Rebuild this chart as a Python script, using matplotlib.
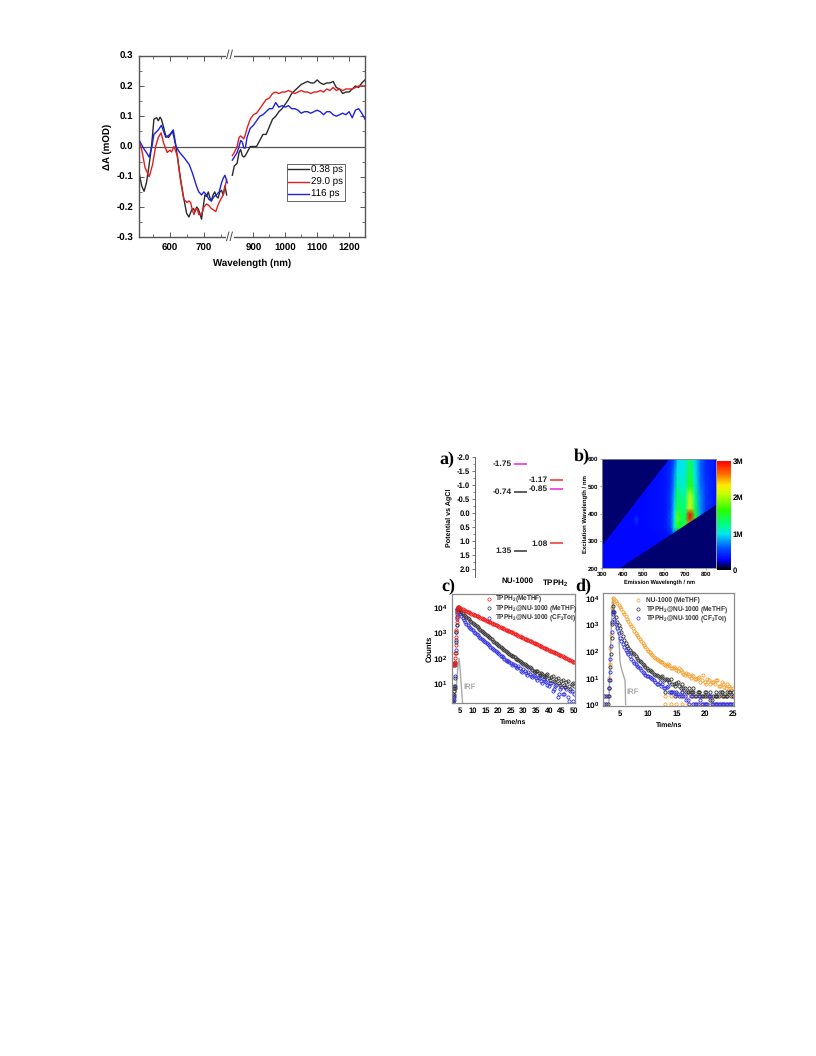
import numpy as np
import matplotlib
matplotlib.use('Agg')
import matplotlib.pyplot as plt
from matplotlib.colors import LinearSegmentedColormap
from matplotlib.ticker import FixedLocator, NullFormatter

# transient absorption spectra (top panel), each trace read on its own wavelengths below the axis break
black_left_wl = [510, 517, 524, 531, 539, 546, 553, 561, 566, 571, 575, 580, 588, 596, 602, 608, 618, 629, 639, 649,
	656, 664, 669, 674, 679, 683, 688, 693, 698, 703, 708, 713, 718, 722, 727, 732, 737, 742, 747, 752, 757, 762, 767]
black_left = [-0.09, -0.13, -0.148, -0.12, -0.06, 0.0, 0.09, 0.095, 0.085, 0.097, 0.09, 0.07, 0.035, 0.03, 0.04, 0.05, 0.0, -0.09, -0.16, -0.22,
	-0.233, -0.21, -0.205, -0.215, -0.20, -0.205, -0.22, -0.24, -0.20, -0.16, -0.165, -0.15, -0.17, -0.18, -0.16, -0.15, -0.165, -0.17, -0.15, -0.145, -0.16, -0.13, -0.16]
red_left_wl = [510, 517, 527, 539, 549, 558, 566, 574, 582, 592, 600, 605, 612, 622, 631, 641, 651, 656, 661, 666,
	671, 676, 680, 685, 693, 700, 708, 715, 722, 729, 735, 741, 747, 752, 757, 762, 767]
red_left = [0.015, -0.01, -0.07, -0.10, -0.06, 0.0, 0.03, 0.045, 0.01, -0.02, -0.012, -0.018, 0.0, -0.03, -0.11, -0.175, -0.185, -0.18, -0.185, -0.21,
	-0.225, -0.205, -0.205, -0.225, -0.225, -0.20, -0.19, -0.195, -0.205, -0.21, -0.215, -0.195, -0.18, -0.17, -0.16, -0.135, -0.11]
blue_left_wl = [510, 522, 531, 539, 547, 553, 566, 575, 588, 594, 600, 610, 618, 629, 644, 657, 667, 678, 685, 693,
	700, 708, 715, 722, 730, 737, 745, 752, 757, 762, 769]
blue_left = [0.02, -0.005, -0.02, -0.035, 0.0, 0.04, 0.055, 0.07, 0.03, 0.035, 0.04, 0.055, 0.0, -0.02, -0.04, -0.06, -0.09, -0.13, -0.15, -0.16,
	-0.15, -0.16, -0.175, -0.18, -0.165, -0.16, -0.15, -0.12, -0.105, -0.095, -0.12]

wl_right = [834, 840, 849, 855, 860, 865, 870, 875, 880, 890, 900, 910, 920, 930, 940, 950, 960, 970, 980, 990,
	1000, 1010, 1020, 1030, 1040, 1050, 1060, 1070, 1080, 1090, 1100, 1110, 1120, 1130, 1140, 1150, 1160, 1170, 1180, 1190,
	1200, 1210, 1220, 1230, 1240, 1250]
black_right = [-0.095, -0.065, -0.055, -0.02, -0.01, -0.03, -0.035, -0.03, -0.02, 0.0, 0.0, 0.0, 0.02, 0.04, 0.04, 0.065, 0.09, 0.10, 0.115, 0.125,
	0.14, 0.155, 0.175, 0.185, 0.195, 0.205, 0.21, 0.215, 0.21, 0.21, 0.22, 0.21, 0.205, 0.21, 0.21, 0.215, 0.195, 0.19, 0.175, 0.18,
	0.18, 0.19, 0.20, 0.195, 0.21, 0.22]
red_right = [-0.03, -0.02, 0.0, 0.03, 0.035, 0.03, 0.025, 0.04, 0.06, 0.09, 0.105, 0.11, 0.125, 0.14, 0.155, 0.16, 0.175, 0.18, 0.175, 0.18,
	0.18, 0.185, 0.18, 0.175, 0.18, 0.185, 0.18, 0.18, 0.175, 0.18, 0.18, 0.185, 0.18, 0.19, 0.185, 0.195, 0.185, 0.19, 0.185, 0.19,
	0.19, 0.19, 0.195, 0.20, 0.20, 0.20]
blue_right = [-0.045, -0.035, -0.02, 0.0, 0.02, 0.015, -0.005, -0.005, 0.03, 0.06, 0.07, 0.085, 0.10, 0.105, 0.115, 0.125, 0.125, 0.145, 0.13, 0.135,
	0.13, 0.135, 0.125, 0.125, 0.12, 0.11, 0.115, 0.115, 0.11, 0.115, 0.12, 0.115, 0.105, 0.115, 0.115, 0.105, 0.10, 0.105, 0.11, 0.105,
	0.115, 0.095, 0.12, 0.125, 0.11, 0.09]
delays = ['0.38 ps', '29.0 ps', '116 ps']

# panel a energy levels
level_col = [0, 0, 0, 1, 1, 1]
level_val = [-1.75, -0.74, 1.35, -1.17, -0.85, 1.08]
level_txt = ['-1.75', '-0.74', '1.35', '-1.17', '-0.85', '1.08']
level_clr = ['#f020e0', '#333333', '#333333', '#f03030', '#f020e0', '#f03030']
level_names = ['NU-1000', r'TPPH$_\mathdefault{2}$']

# panel b excitation-emission map, values in millions of counts
em_nm = [300, 450, 465, 480, 600, 630, 650, 665, 680, 700, 725, 750, 775, 800, 850]
ex_nm = [200, 300, 350, 380, 400, 420, 465, 500, 550, 600]
em_map = [
	[.3, .3, .3, .3, .3, .3, .3, .3, .3, .3, .3, .3, .3, .3, .3],
	[.3, .3, .3, .3, .3, .3, .4, .4, .4, .4, .4, .4, .3, .3, .3],
	[.3, .3, .3, .3, .35, .5, 1.1, 1.6, 1.4, 1.5, 2.2, 1.35, .75, .5, .35],
	[.3, .3, .5, .3, .35, .55, 1.05, 1.8, 1.4, 1.4, 2.9, 1.5, .8, .5, .35],
	[.3, .3, .3, .3, .35, .55, 1.0, 1.75, 1.4, 1.35, 3.0, 1.5, .8, .5, .35],
	[.3, .3, .3, .3, .35, .5, .95, 1.5, 1.3, 1.3, 2.2, 1.35, .75, .5, .35],
	[.3, .3, .3, .3, .35, .5, .9, 1.45, 1.2, 1.2, 2.1, 1.25, .75, .5, .35],
	[.3, .3, .3, .3, .35, .45, .8, 1.3, 1.05, 1.1, 1.65, 1.1, .7, .5, .35],
	[.3, .3, .3, .3, .35, .45, .75, 1.05, 1.0, 1.05, 1.5, 1.0, .65, .45, .35],
	[.3, .3, .3, .3, .35, .4, .6, .95, 1.0, 1.0, 1.4, .95, .65, .45, .35],
]
cut_upper_em = [300, 300, 625]
cut_upper_ex = [280, 600, 600]
cut_lower_em = [385, 850, 850]
cut_lower_ex = [200, 200, 433]

# panel c decays, log10 counts
c_rise_t = [2.0, 2.2, 2.4, 2.5, 2.6, 2.8, 3.0, 3.1, 3.2, 3.3, 3.4, 3.5, 3.6, 3.7, 3.8, 3.9]
c_red_rise = [1.72, 1.74, 1.72, 1.70, 1.74, 1.78, 1.85, 2.0, 2.2, 2.5, 2.8, 3.1, 3.4, 3.6, 3.8, 3.92]
c_black_rise = [0.3, 0.5, 0.6, 0.7, 0.8, 0.9, 0.8, 1.2, 1.7, 2.2, 2.6, 3.0, 3.3, 3.6, 3.8, 3.92]
c_blue_rise = [0.22, 0.25, 0.3, 0.35, 0.45, 0.55, 0.9, 1.3, 1.8, 2.3, 2.7, 3.0, 3.3, 3.5, 3.7, 3.85]
c_t = list(range(4, 51))
c_red = [4.00, 3.95, 3.90, 3.84, 3.80, 3.76, 3.71, 3.66, 3.62, 3.57, 3.52, 3.48, 3.43, 3.38, 3.34, 3.29, 3.24, 3.20, 3.15, 3.10,
	3.06, 3.01, 2.96, 2.92, 2.87, 2.82, 2.78, 2.73, 2.68, 2.64, 2.59, 2.54, 2.49, 2.45, 2.40, 2.35, 2.31, 2.26, 2.21, 2.17,
	2.12, 2.07, 2.03, 1.98, 1.92, 1.88, 1.82]
c_black = [3.98, 3.85, 3.74, 3.63, 3.54, 3.45, 3.37, 3.28, 3.19, 3.10, 3.01, 2.93, 2.84, 2.76, 2.67, 2.58, 2.50, 2.42, 2.34, 2.26,
	2.19, 2.11, 2.05, 1.97, 1.90, 1.83, 1.76, 1.71, 1.63, 1.60, 1.50, 1.48, 1.40, 1.41, 1.28, 1.32, 1.20, 1.25, 1.08, 1.18,
	1.02, 1.10, 0.95, 1.04, 0.88, 0.98, 0.90]
c_blue = [3.90, 3.72, 3.55, 3.40, 3.28, 3.17, 3.07, 2.97, 2.88, 2.79, 2.71, 2.63, 2.53, 2.44, 2.35, 2.27, 2.18, 2.08, 2.03, 1.92,
	1.89, 1.78, 1.76, 1.64, 1.66, 1.50, 1.55, 1.40, 1.44, 1.28, 1.34, 1.20, 1.26, 1.08, 1.15, 1.04, 0.90, 1.02, 0.78, 0.95,
	0.60, 0.85, 0.60, 0.78, 0.30, 0.70, 0.60]
c_t_half = [4.5, 5.5, 6.5, 7.5, 8.5, 9.5, 10.5, 11.5, 12.5, 13.5, 14.5, 15.5, 16.5, 17.5, 18.5, 19.5, 20.5, 21.5, 22.5, 23.5,
	24.5, 25.5, 26.5, 27.5, 28.5, 29.5, 30.5, 31.5, 32.5, 33.5, 34.5, 35.5, 36.5, 37.5, 38.5, 39.5, 40.5, 41.5, 42.5, 43.5,
	44.5, 45.5, 46.5, 47.5, 48.5, 49.5]
c_red_half = [3.98, 3.92, 3.87, 3.82, 3.78, 3.73, 3.69, 3.64, 3.60, 3.54, 3.50, 3.45, 3.41, 3.36, 3.32, 3.27, 3.22, 3.17, 3.13, 3.08,
	3.03, 2.99, 2.94, 2.89, 2.85, 2.80, 2.75, 2.71, 2.66, 2.61, 2.57, 2.52, 2.47, 2.42, 2.38, 2.33, 2.28, 2.24, 2.19, 2.15,
	2.10, 2.05, 2.00, 1.95, 1.90, 1.85]
c_black_half = [3.92, 3.80, 3.68, 3.58, 3.50, 3.41, 3.32, 3.24, 3.14, 3.06, 2.97, 2.89, 2.80, 2.72, 2.63, 2.54, 2.46, 2.38, 2.30, 2.23,
	2.15, 2.08, 2.01, 1.94, 1.87, 1.80, 1.74, 1.66, 1.62, 1.54, 1.46, 1.50, 1.34, 1.38, 1.24, 1.36, 1.14, 1.28, 1.05, 1.20,
	0.95, 1.12, 0.85, 1.08, 0.78, 1.00]
c_blue_half = [3.80, 3.63, 3.47, 3.34, 3.22, 3.12, 3.02, 2.92, 2.83, 2.75, 2.67, 2.58, 2.48, 2.40, 2.31, 2.22, 2.13, 2.05, 1.97, 1.86,
	1.84, 1.70, 1.72, 1.58, 1.60, 1.45, 1.50, 1.34, 1.38, 1.24, 1.30, 1.14, 1.22, 1.00, 1.10, 0.95, 1.00, 0.70, 0.90, 0.48,
	0.78, 0.60, 0.85, 0.48, 0.70, 0.30]
c_irf_t = [3.0, 3.4, 3.8, 4.2, 4.6, 5.0, 5.4, 5.8, 6.0]
c_irf = [0.2, 0.7, 1.2, 1.7, 1.98, 1.6, 1.0, 0.5, 0.2]

# panel d decays, log10 counts
d_rise_t = [2.2, 2.5, 2.8, 3.0, 3.1, 3.2, 3.3, 3.4, 3.5, 3.6, 3.7]
d_orange_rise = [0.3, 0.0, 0.3, 0.6, 1.0, 1.5, 2.1, 2.6, 3.1, 3.6, 3.85]
d_black_rise = [0.0, 0.3, 0.0, 0.3, 0.6, 0.9, 1.4, 1.9, 2.5, 3.0, 3.45]
d_blue_rise = [0.3, 0.0, 0.3, 0.6, 0.9, 1.2, 1.7, 2.2, 2.7, 3.1, 3.4]
d_t = [3.8, 4.0, 4.5, 5.0, 5.5, 6.0, 6.5, 7.0, 7.5, 8.0, 8.5, 9.0, 9.5, 10.0, 10.5, 11.0, 11.5, 12.0, 12.5, 13.0,
	13.5, 14.0, 14.5, 15.0, 15.5, 16.0, 16.5, 17.0, 17.5, 18.0, 18.5, 19.0, 19.5, 20.0, 20.5, 21.0, 21.5, 22.0, 22.5, 23.0,
	23.5, 24.0, 24.5, 25.0]
d_orange = [4.00, 3.95, 3.80, 3.65, 3.47, 3.30, 3.12, 2.95, 2.76, 2.60, 2.45, 2.30, 2.14, 2.00, 1.90, 1.78, 1.72, 1.62, 1.58, 1.48,
	1.52, 1.38, 1.42, 1.28, 1.36, 1.20, 1.10, 1.15, 1.00, 1.08, 0.95, 1.02, 0.90, 0.85, 0.95, 0.78, 0.85, 0.90, 0.70, 0.85,
	0.65, 0.78, 0.60, 0.62]
d_black = [3.70, 3.45, 3.10, 2.85, 2.55, 2.30, 2.12, 1.98, 1.88, 1.75, 1.62, 1.52, 1.40, 1.30, 1.26, 1.15, 1.12, 1.00, 1.06, 0.95,
	0.90, 0.95, 0.78, 0.80, 0.70, 0.78, 0.60, 0.48, 0.48, 0.60, 0.30, 0.48, 0.30, 0.30, 0.30, 0.15, 0.30, 0.30, 0.30, 0.48,
	0.30, 0.30, 0.48, 0.30]
d_blue = [3.50, 3.20, 2.85, 2.50, 2.25, 2.05, 1.88, 1.72, 1.55, 1.45, 1.35, 1.22, 1.12, 1.05, 0.98, 0.90, 0.78, 0.85, 0.75, 0.60,
	0.70, 0.48, 0.48, 0.40, 0.30, 0.48, 0.30, 0.15, 0.30, 0.00, 0.00, 0.30, 0.00, 0.00, 0.00, 0.30, 0.00, 0.00, 0.00, 0.00,
	0.00, 0.00, 0.00, 0.00]
d_t_half = [4.25, 4.75, 5.25, 5.75, 6.25, 6.75, 7.25, 7.75, 8.25, 8.75, 9.25, 9.75, 10.25, 10.75, 11.25, 11.75, 12.25, 12.75, 13.25, 13.75,
	14.25, 14.75, 15.25, 15.75, 16.25, 16.75, 17.25, 17.75, 18.25, 18.75, 19.25, 19.75, 20.25, 20.75, 21.25, 21.75, 22.25, 22.75, 23.25, 23.75,
	24.25, 24.75]
d_orange_half = [3.88, 3.72, 3.56, 3.38, 3.20, 3.03, 2.85, 2.68, 2.52, 2.38, 2.22, 2.08, 1.95, 1.84, 1.75, 1.68, 1.60, 1.52, 1.45, 1.46,
	1.36, 1.38, 1.25, 1.30, 1.15, 1.18, 1.05, 1.10, 0.95, 0.98, 0.85, 1.10, 0.78, 0.90, 0.85, 0.78, 0.90, 0.70, 0.78, 0.60,
	0.70, 0.54]
d_black_half = [3.28, 2.98, 2.70, 2.42, 2.20, 2.05, 1.93, 1.82, 1.68, 1.58, 1.46, 1.35, 1.28, 1.20, 1.10, 1.08, 1.02, 0.90, 0.95, 0.85,
	0.78, 0.70, 0.85, 0.60, 0.60, 0.48, 0.60, 0.48, 0.30, 0.48, 0.30, 0.30, 0.48, 0.30, 0.15, 0.30, 0.30, 0.48, 0.30, 0.30,
	0.48, 0.30]
d_blue_half = [3.00, 2.68, 2.36, 2.15, 1.96, 1.80, 1.62, 1.50, 1.40, 1.28, 1.18, 1.08, 1.02, 0.95, 0.85, 0.78, 0.70, 0.60, 0.65, 0.48,
	0.48, 0.30, 0.40, 0.30, 0.30, 0.15, 0.00, 0.30, 0.00, 0.00, 0.15, 0.00, 0.00, 0.30, 0.00, 0.00, 0.00, 0.00, 0.00, 0.00,
	0.00, 0.00]
# flat rows of single counts at the tail
d_tail_t = [13.0, 14.0, 15.0, 16.0, 17.0, 18.0, 19.0, 20.0, 21.0, 22.0, 23.0, 24.0, 25.0]
d_tail_one = [0.0, 0.0, 0.0, 0.0, 0.0, 0.0, 0.0, 0.0, 0.0, 0.0, 0.0, 0.0, 0.0]
d_tail_two = [0.3, 0.3, 0.3, 0.3, 0.3, 0.3, 0.3, 0.3, 0.3, 0.3, 0.3, 0.3, 0.3]
d_tail_three = [0.48, 0.48, 0.48, 0.48, 0.48, 0.48, 0.48, 0.48, 0.48, 0.48, 0.48, 0.48, 0.48]
d_irf_t = [3.0, 3.2, 3.4, 3.7, 4.0, 4.4, 4.8, 5.0, 5.3, 5.6, 5.9, 6.0]
d_irf = [0.0, 1.2, 2.6, 3.95, 3.4, 2.8, 2.6, 1.6, 1.3, 1.1, 0.9, 0.0]

plt.rcParams['font.family'] = ['Liberation Sans', 'DejaVu Sans']
plt.rcParams['font.weight'] = 'bold'
plt.rcParams['axes.labelweight'] = 'bold'
plt.rcParams['axes.unicode_minus'] = False
plt.rcParams['text.hinting'] = 'no_hinting'

W, H = 816.0, 1056.0
GRAY = '#8a8a8a'


def px_axes(fig, left, top, right, bottom):
	return fig.add_axes([left / W, 1 - bottom / H, (right - left) / W, (bottom - top) / H])


def fig_text(fig, x, y, s, **kw):
	fig.text(x / W, 1 - y / H, s, **kw)


def make_spectra(fig):
	ax = px_axes(fig, 139.3, 55.7, 365, 237.3)
	knots = [510, 776, 827, 1250]
	pos = [0.0, 90.4, 90.8, 225.7]
	ax.set_xlim(510, 1250)
	ax.set_xscale('function', functions=(lambda v: np.interp(v, knots, pos), lambda v: np.interp(v, pos, knots)))
	ax.axhline(0, color='#555555', lw=0.9, zorder=1)
	handles = []
	for lx, left, right, clr, name in [(black_left_wl, black_left, black_right, '#2a2a2a', delays[0]),
			(red_left_wl, red_left, red_right, '#e02020', delays[1]), (blue_left_wl, blue_left, blue_right, '#2020e0', delays[2])]:
		line, = ax.plot(lx, left, color=clr, lw=1.0, label=name)
		ax.plot(wl_right, right, color=clr, lw=1.0)
		handles.append(line)
	ax.set_xlim(510, 1250)
	ax.set_ylim(-0.3, 0.3)
	ax.set_xticks([600, 700, 900, 1000, 1100, 1200])
	ax.xaxis.set_minor_locator(FixedLocator([550, 650, 750, 950, 1050, 1150, 1250]))
	ax.xaxis.set_minor_formatter(NullFormatter())
	ax.set_yticks([-0.3, -0.2, -0.1, 0.0, 0.1, 0.2, 0.3])
	ax.yaxis.set_minor_locator(FixedLocator([-0.25, -0.15, -0.05, 0.05, 0.15, 0.25]))
	ax.tick_params(which='major', direction='in', length=3.5, width=0.7, color='#555555', top=True, right=True, labelsize=7, pad=4.5)
	ax.tick_params(which='minor', direction='in', length=2, width=0.6, color='#555555', top=True, right=True)
	ax.set_xlabel('Wavelength (nm)', fontsize=7, labelpad=4)
	ax.set_ylabel('\u0394A (mOD)', fontsize=7, labelpad=3)
	for s in ax.spines.values():
		s.set_color('#555555')
		s.set_linewidth(1.0)
	trans = ax.get_xaxis_transform()
	for y in [0, 1]:
		ax.text(800, y, '//', transform=trans, ha='center', va='center', fontsize=9, fontweight='normal', color='#444444',
			clip_on=False, zorder=6, bbox=dict(fc='white', ec='none', pad=0.2))
	leg = ax.legend(handles=handles, loc='lower left', bbox_to_anchor=(0.654, 0.2015), borderaxespad=0, fancybox=False,
		framealpha=1, edgecolor='#666666', prop={'weight': 'normal', 'size': 7}, handlelength=2.15, handletextpad=0.2,
		labelspacing=0.3, borderpad=0.15)
	leg.get_frame().set_linewidth(0.7)


def make_levels(fig):
	ax = px_axes(fig, 475, 456.7, 570, 576.7)
	half = 0.176
	for x, v, s, c in zip(level_col, level_val, level_txt, level_clr):
		ax.plot([x - half, x + half], [v, v], color=c, lw=1.1, solid_capstyle='butt')
		ax.text(x - half - 0.06, v, s, ha='right', va='center', fontsize=6, color='#222222')
	ax.set_xlim(-1.258, 1.38)
	ax.set_ylim(2.26, -2.0)
	ax.set_yticks([-2.0, -1.5, -1.0, -0.5, 0.0, 0.5, 1.0, 1.5, 2.0])
	ax.yaxis.set_minor_locator(FixedLocator([-1.75, -1.25, -0.75, -0.25, 0.25, 0.75, 1.25, 1.75]))
	ax.set_xticks([-0.09, 0.97], level_names)
	ax.tick_params(axis='x', length=0, labelsize=5.8, pad=0.5)
	ax.tick_params(axis='y', which='major', length=2.5, width=0.6, color='#666666', labelsize=5.5, pad=1)
	ax.tick_params(axis='y', which='minor', length=1.5, width=0.5, color='#666666')
	for k in ['top', 'right', 'bottom']:
		ax.spines[k].set_visible(False)
	ax.spines['left'].set_color('#666666')
	ax.spines['left'].set_linewidth(0.7)
	ax.set_ylabel('Potential vs AgCl', fontsize=5.1)
	ax.yaxis.set_label_coords(-0.245, 0.49)
	fig_text(fig, 439, 460, 'a)', family='Liberation Serif', fontsize=13, va='center')


def make_map(fig):
	ax = px_axes(fig, 602, 459, 716, 568.3)
	cmap = LinearSegmentedColormap.from_list('emap', [(0.0, '#000000'), (0.03, '#000050'), (0.05, '#00007a'), (0.09, '#0000ff'),
		(0.2, '#0050ff'), (0.33, '#00e6f0'), (0.42, '#00ff82'), (0.55, '#28ff00'), (0.7, '#c8ff00'), (0.78, '#ffeb00'),
		(0.88, '#ff6e00'), (1.0, '#ff0000')])
	mesh = ax.pcolormesh(em_nm, ex_nm, np.array(em_map), shading='gouraud', cmap=cmap, vmin=0, vmax=3)
	ax.fill(cut_upper_em, cut_upper_ex, color='#00006e', lw=0)
	ax.fill(cut_lower_em, cut_lower_ex, color='#00006e', lw=0)
	ax.set_xlim(300, 850)
	ax.set_ylim(200, 600)
	ax.set_xticks([300, 400, 500, 600, 700, 800])
	ax.set_yticks([200, 300, 400, 500, 600])
	ax.tick_params(length=1.5, width=0.5, color=GRAY, labelsize=4.5, pad=1)
	ax.set_xlabel('Emission Wavelength / nm', fontsize=4.1, labelpad=1.5)
	ax.set_ylabel('Excitation Wavelength / nm', fontsize=4.3, labelpad=0)
	for s in ax.spines.values():
		s.set_color(GRAY)
		s.set_linewidth(0.6)
	cax = px_axes(fig, 717, 461, 731, 570)
	cb = fig.colorbar(mesh, cax=cax, ticks=[0, 1, 2, 3])
	cb.ax.set_yticklabels(['0', '1M', '2M', '3M'])
	cb.ax.tick_params(length=0, labelsize=5.5, pad=1)
	cb.outline.set_visible(False)
	fig_text(fig, 574, 457, 'b)', family='Liberation Serif', fontsize=13, va='center')


def style_decay(ax, xticks):
	ax.set_yscale('log')
	ax.set_xticks(xticks)
	ax.tick_params(axis='x', length=0, labelsize=5.5, pad=3)
	ax.tick_params(axis='y', which='major', length=0, labelsize=6, pad=3)
	ax.tick_params(axis='y', which='minor', length=0, labelleft=False)
	ax.set_xlabel('Time/ns', fontsize=5, labelpad=3)
	for s in ax.spines.values():
		s.set_color(GRAY)
		s.set_linewidth(0.9)


def scatter_decay(ax, t, logv, clr, name=None):
	ax.plot(t, 10.0 ** np.array(logv), ls='none', marker='o', ms=2.3, mfc='none', mew=0.6, color=clr, label=name)


def make_decay_c(fig):
	ax = px_axes(fig, 451.7, 594.3, 575.3, 703.3)
	ax.plot(c_irf_t, 10.0 ** np.array(c_irf), color='#aaaaaa', lw=1.0)
	scatter_decay(ax, c_rise_t + c_t + c_t_half, c_blue_rise + c_blue + c_blue_half, '#3030e0')
	scatter_decay(ax, c_rise_t + c_t + c_t_half, c_black_rise + c_black + c_black_half, '#333333')
	scatter_decay(ax, c_rise_t + c_t + c_t_half, c_red_rise + c_red + c_red_half, '#f01818')
	ax.set_xlim(1.7, 50.5)
	ax.set_ylim(1.65, 30400)
	style_decay(ax, list(range(5, 51, 5)))
	ax.set_ylabel('Counts', fontsize=5.5, labelpad=0)
	ax.text(6.2, 7.2, 'IRF', fontsize=5.5, color='#aaaaaa', va='center')
	names = [r'TPPH$_\mathdefault{2}$(MeTHF)', r'TPPH$_\mathdefault{2}$@NU-1000 (MeTHF)', r'TPPH$_\mathdefault{2}$@NU-1000 (CF$_\mathdefault{3}$Tol)']
	clrs = ['#f01818', '#333333', '#3030e0']
	for k in range(3):
		ax.plot([0.30], [0.957 - k * 0.0855], transform=ax.transAxes, ls='none', marker='o', ms=2.3, mfc='none', mew=0.5, color=clrs[k])
		ax.text(0.348, 0.957 - k * 0.0855, names[k], transform=ax.transAxes, fontsize=4.7, va='center', color='#333333')
	fig_text(fig, 441, 587, 'c)', family='Liberation Serif', fontsize=13, va='center')


def make_decay_d(fig):
	ax = px_axes(fig, 603.3, 593.3, 734, 705.7)
	ax.plot(d_irf_t, 10.0 ** np.array(d_irf), color='#aaaaaa', lw=1.0)
	scatter_decay(ax, d_rise_t + d_t + d_t_half, d_orange_rise + d_orange + d_orange_half, '#f4a030')
	scatter_decay(ax, d_tail_t, d_tail_one, '#f4a030')
	scatter_decay(ax, d_tail_t, d_tail_two, '#f4a030')
	scatter_decay(ax, d_tail_t, d_tail_three, '#333333')
	scatter_decay(ax, d_rise_t + d_t + d_t_half, d_black_rise + d_black + d_black_half, '#333333')
	scatter_decay(ax, d_rise_t + d_t + d_t_half, d_blue_rise + d_blue + d_blue_half, '#3030e0')
	ax.set_xlim(2.04, 25.2)
	ax.set_ylim(0.9, 14500)
	style_decay(ax, [5, 10, 15, 20, 25])
	ax.text(6.2, 3.0, 'IRF', fontsize=5.5, color='#aaaaaa', va='center')
	names = ['NU-1000 (MeTHF)', r'TPPH$_\mathdefault{2}$@NU-1000 (MeTHF)', r'TPPH$_\mathdefault{2}$@NU-1000 (CF$_\mathdefault{3}$Tol)']
	clrs = ['#f4a030', '#333333', '#3030e0']
	for k in range(3):
		ax.plot([0.268], [0.94 - k * 0.082], transform=ax.transAxes, ls='none', marker='o', ms=2.3, mfc='none', mew=0.5, color=clrs[k])
		ax.text(0.327, 0.94 - k * 0.082, names[k], transform=ax.transAxes, fontsize=4.7, va='center', color='#333333')
	fig_text(fig, 575, 587, 'd)', family='Liberation Serif', fontsize=13, va='center')


def main():
	fig = plt.figure(figsize=(8.16, 10.56), dpi=100, facecolor='white')
	make_spectra(fig)
	make_levels(fig)
	make_map(fig)
	make_decay_c(fig)
	make_decay_d(fig)
	fig.savefig('out.png', dpi=100)


if __name__ == "__main__":
	main()
